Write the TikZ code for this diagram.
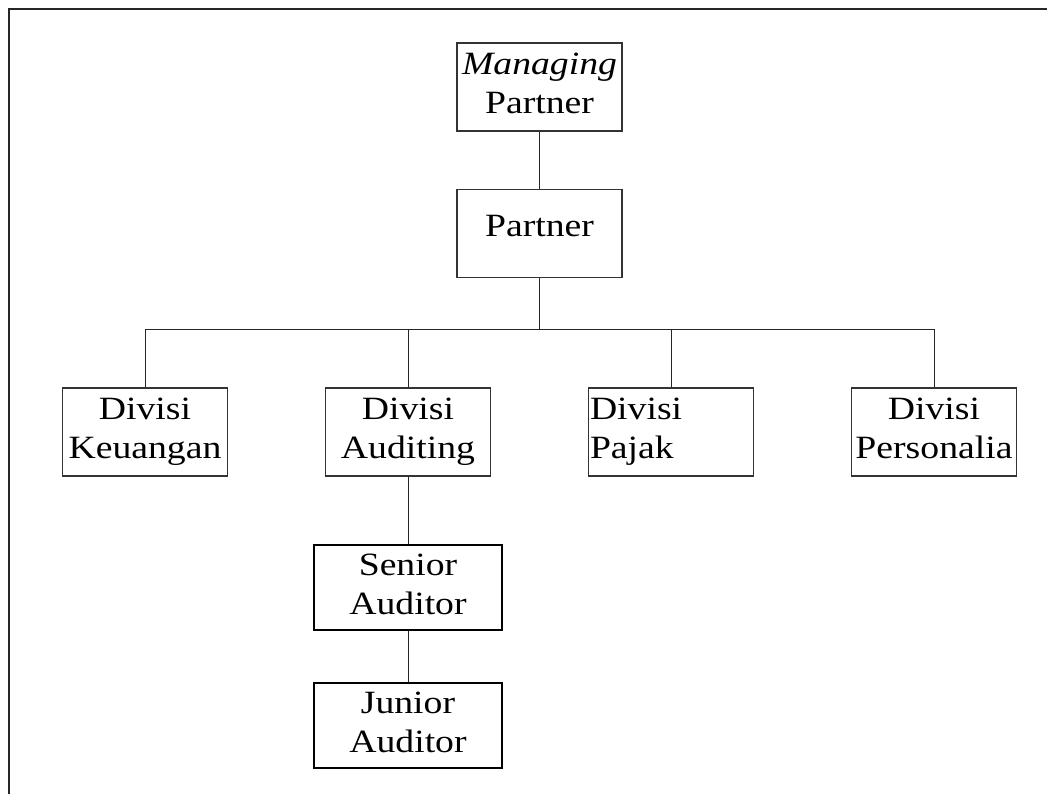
\documentclass[tikz,border=0pt]{standalone}
\usepackage{fontspec}
\setmainfont{Liberation Serif}[FakeStretch=1.16]
\begin{document}
\begin{tikzpicture}[x=1pt,y=-1pt,
  box/.style={draw=black!80, line width=1.1pt, minimum width=165pt, minimum height=88pt,
    inner sep=0pt, align=center, text depth=7pt, font=\fontsize{32.5}{39}\selectfont},
  heavybox/.style={box, draw=black, line width=2.8pt, minimum width=188pt, minimum height=85pt},
  conn/.style={draw=black!85, line width=0.9pt}]
\useasboundingbox (0,0) rectangle (1047,794);
\draw[line width=2pt, black!85] (8.5,794) -- (8.5,9.5) -- (1047,9.5);

\node[box] (mp) at (539.5,87) {\textit{Managing}\\Partner};
\node[box, text depth=16pt] (p) at (539.5,233.5) {Partner};

\node[box] (keu) at (145,432) {Divisi\\Keuangan};
\node[box] (aud) at (408,432) {Divisi\\Auditing};
\node[box] (paj) at (671,432) {\makebox[162pt][l]{Divisi}\\\makebox[162pt][l]{Pajak}};
\node[box] (pers) at (934,432) {Divisi\\Personalia};

\node[heavybox] (sen) at (408,587.5) {Senior\\Auditor};
\node[heavybox] (jun) at (408,725.5) {Junior\\Auditor};

\coordinate (bus) at (539.5,329);
\coordinate (busL) at (145,329);
\coordinate (busA) at (408,329);
\coordinate (busP) at (671,329);
\coordinate (busR) at (934,329);

\draw[conn] (mp.south) -- (p.north);
\draw[conn] (p.south) -- (bus);
\draw[conn] (busL) -- (busR);
\draw[conn] (busL) -- (keu.north);
\draw[conn] (busA) -- (aud.north);
\draw[conn] (busP) -- (paj.north);
\draw[conn] (busR) -- (pers.north);
\draw[conn] (aud.south) -- (sen.north);
\draw[conn] (sen.south) -- (jun.north);
\end{tikzpicture}
\end{document}
